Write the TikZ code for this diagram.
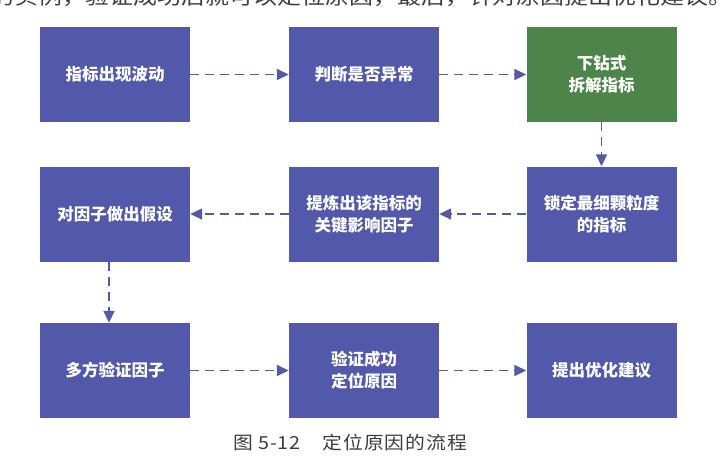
\documentclass[tikz,border=0pt]{standalone}
\usepackage{fontspec}
\setmainfont{Liberation Sans}
\newfontfamily\boxfont{Noto Sans CJK SC}
\newfontfamily\capfont[FakeStretch=1.1,LetterSpace=5]{Noto Sans CJK SC}
\newfontfamily\leadfont[FakeStretch=1.14]{Noto Sans CJK SC}
\usetikzlibrary{arrows.meta}
\definecolor{boxblue}{RGB}{82,88,170}
\definecolor{boxgreen}{RGB}{76,132,74}
\definecolor{flowblue}{RGB}{84,90,165}
\definecolor{capgray}{RGB}{60,60,60}
\begin{document}
\begin{tikzpicture}[x=1pt,y=-1pt,
    box/.style={fill=boxblue,minimum width=150pt,minimum height=95pt,inner sep=0pt,
      text=white,align=center,font={\boxfont\bfseries\fontsize{16.5}{22}\selectfont}},
    flow/.style={draw=flowblue,line width=1.6pt,dash pattern=on 9pt off 6pt,
      -{Triangle[length=12pt,width=11pt,fill=flowblue]}}]
  \useasboundingbox (0,0) rectangle (727,459);
  % cut-off line of body text above the figure
  \begin{scope}
    \clip (0,0) rectangle (727,459);
    \node[anchor=base west,inner sep=0pt,text=black!75,font={\leadfont\fontsize{21}{21}\selectfont}]
      (lead) at (-10,4) {的实例，验证成功后就可以定位原因，最后，针对原因提出优化建议。};
  \end{scope}
  % steps
  \node[box] (wave)   at (115,74.5)  {指标出现波动};
  \node[box] (judge)  at (364,74.5)  {判断是否异常};
  \node[box,fill=boxgreen] (drill) at (601.5,74.5) {下钻式\\拆解指标};
  \node[box] (lock)   at (601.5,214) {锁定最细颗粒度\\的指标};
  \node[box] (factor) at (364,214)   {提炼出该指标的\\关键影响因子};
  \node[box] (guess)  at (115,214)   {对因子做出假设};
  \node[box] (verify) at (115,370.5) {多方验证因子};
  \node[box] (found)  at (364,370.5) {验证成功\\定位原因};
  \node[box] (advice) at (601.5,370.5) {提出优化建议};
  % flow
  \draw[flow] (wave) -- (judge);
  \draw[flow] (judge) -- (drill);
  \draw[flow] (drill) -- (lock);
  \draw[flow] (lock) -- (factor);
  \draw[flow] (factor) -- (guess);
  \draw[flow] ([xshift=-6pt]guess.south) -- ([xshift=-6pt]verify.north);
  \draw[flow] (verify) -- (found);
  \draw[flow] (found) -- (advice);
  % caption
  \node[anchor=base west,inner sep=0pt,text=capgray,font={\capfont\fontsize{18}{18}\selectfont}]
    (cap) at (233,449) {图 5-12\hspace{22pt}定位原因的流程};
\end{tikzpicture}
\end{document}
